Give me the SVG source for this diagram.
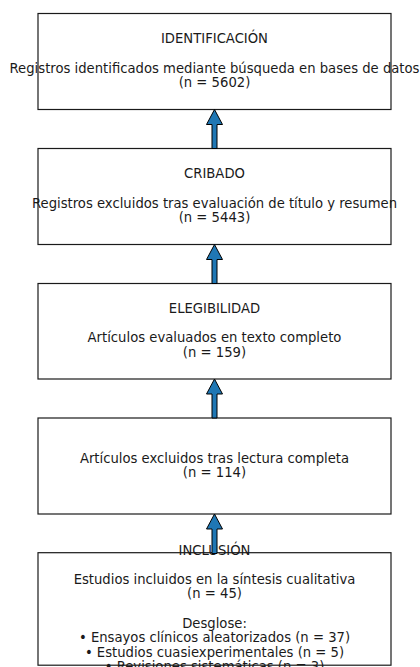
<svg xmlns="http://www.w3.org/2000/svg" width="420" height="667" viewBox="0 0 420 667">
<style>
.box{fill:#ffffff;stroke:#1a1a1a;stroke-width:1.2}
.t{font-family:"DejaVu Sans",sans-serif;font-size:13.2px;fill:#1a1a1a;text-anchor:middle}
.arr{fill:#1f77b4;stroke:#000;stroke-width:1;stroke-linejoin:miter}
</style>
<rect width="420" height="667" fill="#ffffff"/>
<g id="identificacion">
<rect class="box" x="38" y="13.5" width="353" height="96"/>
<text class="t" x="214.5" y="43.3">IDENTIFICACIÓN</text>
<text class="t" x="214.5" y="72.5">Registros identificados mediante búsqueda en bases de datos</text>
<text class="t" x="214.5" y="87.1">(n = 5602)</text>
</g>
<g id="cribado">
<rect class="box" x="38" y="148.5" width="353" height="96"/>
<text class="t" x="214.5" y="178.3">CRIBADO</text>
<text class="t" x="214.5" y="207.5">Registros excluidos tras evaluación de título y resumen</text>
<text class="t" x="214.5" y="222.1">(n = 5443)</text>
</g>
<g id="elegibilidad">
<rect class="box" x="38" y="283.5" width="353" height="95.5"/>
<text class="t" x="214.5" y="313.1">ELEGIBILIDAD</text>
<text class="t" x="214.5" y="342.3">Artículos evaluados en texto completo</text>
<text class="t" x="214.5" y="356.9">(n = 159)</text>
</g>
<g id="excluidos">
<rect class="box" x="38" y="418" width="353" height="96"/>
<text class="t" x="214.5" y="462.5">Artículos excluidos tras lectura completa</text>
<text class="t" x="214.5" y="477.1">(n = 114)</text>
</g>
<g id="inclusion">
<rect class="box" x="38" y="552.7" width="353" height="112.5"/>
<text class="t" x="214.5" y="554.5">INCLUSIÓN</text>
<text class="t" x="214.5" y="583.7">Estudios incluidos en la síntesis cualitativa</text>
<text class="t" x="214.5" y="598.3">(n = 45)</text>
<text class="t" x="214.5" y="627.5">Desglose:</text>
<text class="t" x="214.5" y="642.1">• Ensayos clínicos aleatorizados (n = 37)</text>
<text class="t" x="214.5" y="656.7">• Estudios cuasiexperimentales (n = 5)</text>
<text class="t" x="214.5" y="671.3">• Revisiones sistemáticas (n = 3)</text>
</g>
<g id="connectors">
<path class="arr" d="M214.5 109.5 L222.5 124.5 L217 124.5 L217 148.5 L212 148.5 L212 124.5 L206.5 124.5 Z"/>
<path class="arr" d="M214.5 244.5 L222.5 259.5 L217 259.5 L217 283.5 L212 283.5 L212 259.5 L206.5 259.5 Z"/>
<path class="arr" d="M214.5 379 L222.5 394 L217 394 L217 418 L212 418 L212 394 L206.5 394 Z"/>
<path class="arr" d="M214.5 514 L222.5 529 L217 529 L217 553.5 L212 553.5 L212 529 L206.5 529 Z"/>
</g>
</svg>
